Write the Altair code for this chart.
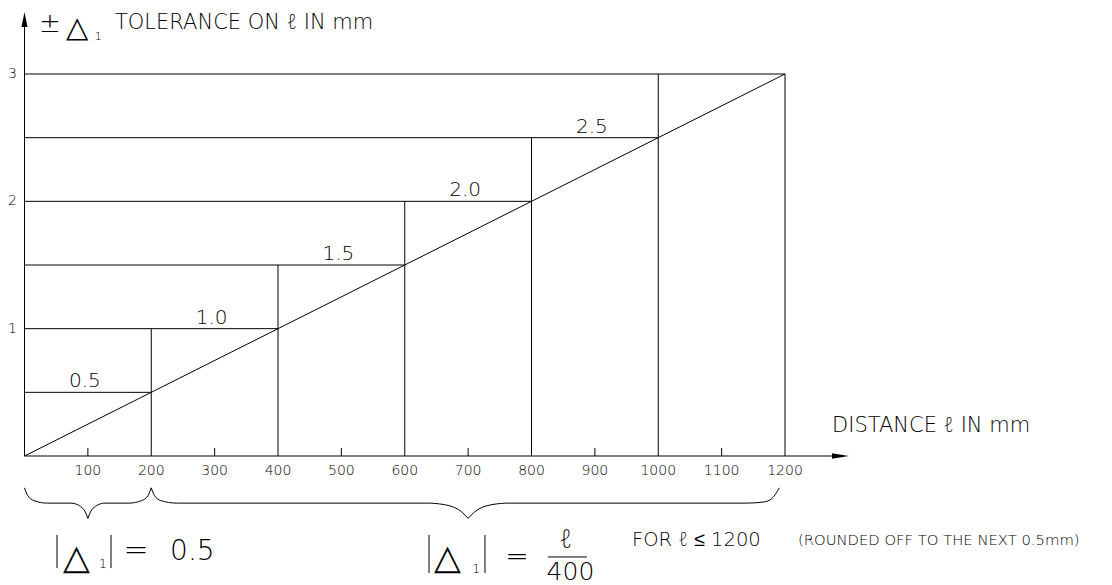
import altair as alt
import pandas as pd

FONT = "DejaVu Sans, Noto Sans, sans-serif"
WEIGHT = 200
W, H = 1096, 577

# ---------------- data ----------------
distance_ticks = [100, 200, 300, 400, 500, 600, 700, 800, 900, 1000, 1100, 1200]
distance_tick_labels = ["100", "200", "300", "400", "500", "600", "700", "800", "900", "1000", "1100", "1200"]
minor_ticks = [100, 300, 500, 700, 900, 1100]
tolerance_ticks = [1, 2, 3]
tolerance_tick_labels = ["1", "2", "3"]

step_levels = [0.5, 1.0, 1.5, 2.0, 2.5, 3.0]
step_ends = [200, 400, 600, 800, 1000, 1200]
riser_x = [200, 400, 600, 800, 1000, 1200]
riser_tops = [1.0, 1.5, 2.0, 2.5, 3.0, 3.0]

step_label_text = ["0.5", "1.0", "1.5", "2.0", "2.5"]
step_label_x = [100, 300, 500, 700, 900]
step_label_y = [0.5, 1.0, 1.5, 2.0, 2.5]

ratio_distance = [0, 1200]
ratio_tolerance = [0, 3]

# curly braces under the axis (distance, tolerance units), one path per segment
brace_seg = ["a1"] * 5 + ["a2"] * 4 + ["a3"] * 4 + ["a4"] * 5 + \
            ["b1"] * 5 + ["b2"] * 4 + ["b3"] * 4 + ["b4"] * 5
brace_x = [0, 5, 15, 35, 75, 75, 88, 96, 100, 100, 104, 112, 125, 125, 165, 185, 195, 200,
           200, 205, 215, 240, 640, 640, 670, 690, 700, 700, 710, 730, 760, 760, 1140, 1168, 1182, 1191]
brace_y = [-0.25, -0.31, -0.35, -0.37, -0.37, -0.37, -0.395, -0.44, -0.49, -0.49, -0.44, -0.395, -0.37,
           -0.37, -0.37, -0.35, -0.31, -0.25,
           -0.25, -0.31, -0.35, -0.37, -0.37, -0.37, -0.39, -0.44, -0.49, -0.49, -0.44, -0.39, -0.37,
           -0.37, -0.37, -0.36, -0.32, -0.25]

# absolute-value bars of the two formulas: x position, bottom, top
abs_bar_x = [51.3, 136.5, 638.3, 726.6]
abs_bar_lo = [-0.88, -0.88, -0.919, -0.919]
abs_bar_hi = [-0.62, -0.62, -0.62, -0.62]

# ---------------- scales ----------------
K_X = 0.63375
K_Y = 127.33
x_min = -16.5 / K_X
x_max = x_min + W / K_X
y_max = 448 / K_Y
y_min = y_max - H / K_Y
xs = alt.Scale(domain=[x_min, x_max], nice=False, zero=False)
ys = alt.Scale(domain=[y_min, y_max], nice=False, zero=False)


def X(f):
    return alt.X(f, type="quantitative", scale=xs, axis=None)


def Y(f):
    return alt.Y(f, type="quantitative", scale=ys, axis=None)


layers = []

# step rectangles
df_h = pd.DataFrame({"start": [0] * len(step_levels), "level": step_levels, "end": step_ends})
layers.append(alt.Chart(df_h).mark_rule(color="black", strokeWidth=1).encode(
    x=X("start"), x2=alt.X2("end"), y=Y("level")))
df_v = pd.DataFrame({"x": riser_x, "base": [0] * len(riser_x), "top": riser_tops})
layers.append(alt.Chart(df_v).mark_rule(color="black", strokeWidth=1).encode(
    x=X("x"), y=Y("base"), y2=alt.Y2("top")))

# ratio line
df_line = pd.DataFrame({"d": ratio_distance, "t": ratio_tolerance})
layers.append(alt.Chart(df_line).mark_line(color="black", strokeWidth=1).encode(x=X("d"), y=Y("t")))

# axes lines
df_ax = pd.DataFrame({"x0": [0], "x1": [1280], "y0": [0], "y1": [3.42]})
layers.append(alt.Chart(df_ax).mark_rule(color="black", strokeWidth=1).encode(
    x=X("x0"), x2=alt.X2("x1"), y=Y("y0")))
layers.append(alt.Chart(df_ax).mark_rule(color="black", strokeWidth=1).encode(
    x=X("x0"), y=Y("y0"), y2=alt.Y2("y1")))
df_arrow_r = pd.DataFrame({"x": [1287.5], "y": [0]})
layers.append(alt.Chart(df_arrow_r).mark_point(
    shape="M-1,-0.33L1,0L-1,0.33Z", size=289, filled=True, color="black", opacity=1).encode(
    x=X("x"), y=Y("y")))
df_arrow_u = pd.DataFrame({"x": [0], "y": [3.428]})
layers.append(alt.Chart(df_arrow_u).mark_point(
    shape="M-0.4,1L0,-1L0.4,1Z", size=225, filled=True, color="black", opacity=1).encode(
    x=X("x"), y=Y("y")))

# inward ticks on distance axis
df_t = pd.DataFrame({"d": minor_ticks, "y0": [0] * len(minor_ticks), "y1": [0.063] * len(minor_ticks)})
layers.append(alt.Chart(df_t).mark_rule(color="black", strokeWidth=1).encode(
    x=X("d"), y=Y("y0"), y2=alt.Y2("y1")))

# tick labels
df_tl = pd.DataFrame({"d": distance_ticks, "lab": distance_tick_labels, "y": [0] * len(distance_ticks)})
layers.append(alt.Chart(df_tl).mark_text(font=FONT, fontWeight=WEIGHT, fontSize=14, align="center",
                                         baseline="middle", dy=15, color="black").encode(
    x=X("d"), y=Y("y"), text="lab:N"))
df_yl = pd.DataFrame({"t": tolerance_ticks, "lab": tolerance_tick_labels, "x": [0] * 3})
layers.append(alt.Chart(df_yl).mark_text(font=FONT, fontWeight=WEIGHT, fontSize=14, align="center",
                                         baseline="middle", dx=-12, color="black").encode(
    x=X("x"), y=Y("t"), text="lab:N"))

# step labels
df_sl = pd.DataFrame({"x": step_label_x, "y": step_label_y, "lab": step_label_text})
layers.append(alt.Chart(df_sl).mark_text(font=FONT, fontWeight=WEIGHT, fontSize=20, align="center",
                                         baseline="alphabetic", dx=-3, dy=-5, color="black").encode(
    x=X("x"), y=Y("y"), text="lab:N"))

# braces
df_b = pd.DataFrame({"seg": brace_seg, "x": brace_x, "y": brace_y})
layers.append(alt.Chart(df_b).mark_line(color="black", strokeWidth=1, interpolate="monotone").encode(
    x=X("x"), y=Y("y"), detail="seg:N"))

# absolute-value bars and fraction bar
df_ab = pd.DataFrame({"x": abs_bar_x, "lo": abs_bar_lo, "hi": abs_bar_hi})
layers.append(alt.Chart(df_ab).mark_rule(color="black", strokeWidth=1).encode(
    x=X("x"), y=Y("lo"), y2=alt.Y2("hi")))
df_fb = pd.DataFrame({"x0": [825.9], "x1": [887.5], "y": [-0.793]})
layers.append(alt.Chart(df_fb).mark_rule(color="black", strokeWidth=1).encode(
    x=X("x0"), x2=alt.X2("x1"), y=Y("y")))

# text annotations: (text, x, y, size, align, baseline)
annotations = [
    ("±", 40.2, 3.33, 26, "center", "alphabetic"),
    ("△", 82.8, 3.29, 29, "center", "alphabetic"),
    ("1", 116.5, 3.267, 11, "center", "alphabetic"),
    ("TOLERANCE ON ℓ IN mm", 142.8, 3.3535, 21, "left", "alphabetic"),
    ("DISTANCE ℓ IN mm", 1274.2, 0.1885, 21, "left", "alphabetic"),
    ("△", 82.1, -0.8875, 35, "center", "alphabetic"),
    ("1", 123.5, -0.880, 13, "center", "alphabetic"),
    ("=", 175.9, -0.746, 30, "center", "middle"),
    ("0.5", 229.7, -0.817, 28, "left", "alphabetic"),
    ("△", 668.2, -0.8875, 35, "center", "alphabetic"),
    ("1", 712.5, -0.919, 13, "center", "alphabetic"),
    ("=", 777.1, -0.797, 28, "center", "middle"),
    ("ℓ", 854.4, -0.7225, 26, "center", "alphabetic"),
    ("400", 861.5, -0.974, 25, "center", "alphabetic"),
    ("FOR ℓ ≤ 1200", 958.6, -0.7068, 19.5, "left", "alphabetic"),
    ("(ROUNDED OFF TO THE NEXT 0.5mm)", 1220.5, -0.699, 14.8, "left", "alphabetic"),
]
for txt, ax, ay, sz, al, bl in annotations:
    d = pd.DataFrame({"x": [ax], "y": [ay], "t": [txt]})
    layers.append(alt.Chart(d).mark_text(font=FONT, fontWeight=WEIGHT, fontSize=sz, align=al, baseline=bl,
                                         color="black")
                  .encode(x=X("x"), y=Y("y"), text="t:N"))

chart = alt.layer(*layers).properties(
    width=W, height=H, padding=0, autosize=alt.AutoSizeParams(type="none"), background="white"
).configure_view(stroke=None)

chart.save("out.html", embed_options={"renderer": "svg", "actions": False})
